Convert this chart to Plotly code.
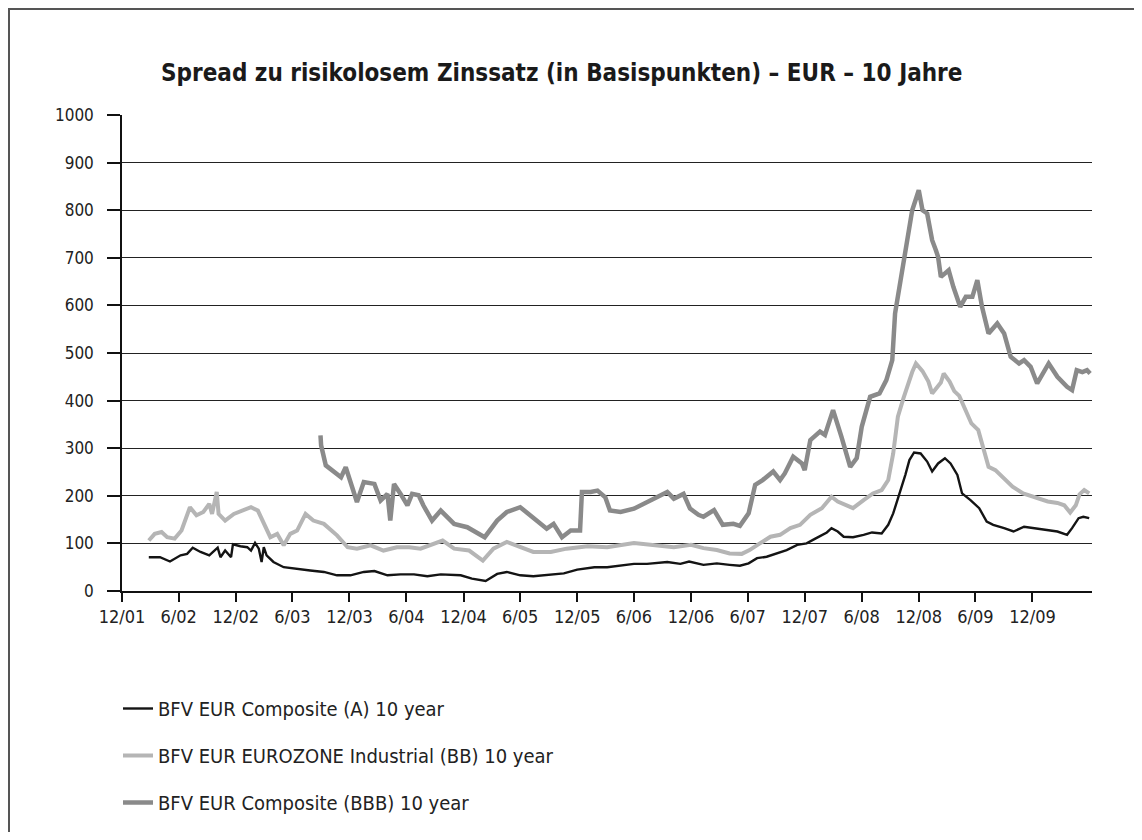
import plotly.graph_objects as go

# ---------------- data ----------------
dates_a = ["2002-02-25","2002-04-02","2002-05-04","2002-06-07","2002-06-28","2002-07-16","2002-08-10",
           "2002-09-07","2002-10-04","2002-10-13","2002-10-28","2002-11-16","2002-11-22","2002-12-16",
           "2003-01-07","2003-01-19","2003-02-01","2003-02-13","2003-02-22","2003-03-01","2003-03-10",
           "2003-04-01","2003-05-04","2003-06-04","2003-07-28","2003-09-10","2003-10-22","2003-12-04",
           "2004-01-16","2004-02-19","2004-04-01","2004-05-13","2004-06-25","2004-08-07","2004-09-19",
           "2004-11-22","2004-12-28","2005-02-10","2005-03-19","2005-04-19","2005-06-01","2005-07-13",
           "2005-09-07","2005-10-19","2005-12-01","2006-01-25","2006-03-07","2006-04-19","2006-06-01",
           "2006-07-13","2006-09-16","2006-10-28","2006-11-25","2007-01-10","2007-02-22","2007-04-04",
           "2007-05-07","2007-06-04","2007-07-01","2007-08-01","2007-09-01","2007-10-04","2007-11-07",
           "2007-12-07","2008-01-07","2008-02-10","2008-02-25","2008-03-16","2008-04-04","2008-05-04",
           "2008-06-07","2008-07-04","2008-08-04","2008-08-25","2008-09-10","2008-10-01","2008-10-19",
           "2008-11-01","2008-11-16","2008-12-07","2008-12-28","2009-01-13","2009-02-01","2009-02-23",
           "2009-03-13","2009-04-04","2009-04-19","2009-05-16","2009-06-13","2009-07-07","2009-07-28",
           "2009-09-01","2009-10-01","2009-11-04","2009-12-07","2010-01-07","2010-02-19","2010-03-22",
           "2010-04-07","2010-04-28","2010-05-13","2010-06-01"]
vals_a = [71, 71, 62, 75, 78, 91, 82,
          75, 91, 71, 85, 71, 98, 94,
          92, 85, 101, 89, 61, 92, 75,
          61, 50, 47, 43, 40, 33, 33,
          40, 42, 33, 35, 35, 31, 35,
          33, 26, 21, 36, 40, 33, 31,
          35, 37, 45, 50, 50, 54, 57,
          57, 61, 57, 62, 55, 58, 55,
          53, 58, 69, 72, 78, 86, 97,
          100, 111, 123, 132, 125, 114, 113,
          118, 123, 121, 139, 163, 205, 244,
          275, 291, 289, 272, 251, 268, 279,
          268, 244, 205, 191, 174, 146, 139,
          132, 125, 135, 132, 128, 125, 118,
          132, 153, 156, 153]

dates_bb = ["2002-02-25","2002-03-16","2002-04-07","2002-04-25","2002-05-19","2002-06-10","2002-07-07",
            "2002-07-28","2002-08-19","2002-09-07","2002-09-16","2002-10-01","2002-10-07","2002-10-28",
            "2002-11-25","2002-12-22","2003-01-19","2003-02-10","2003-03-01","2003-03-22","2003-04-13",
            "2003-05-04","2003-05-25","2003-06-16","2003-07-13","2003-08-07","2003-09-10","2003-10-22",
            "2003-11-25","2003-12-25","2004-02-07","2004-03-19","2004-05-01","2004-06-10","2004-07-16",
            "2004-09-25","2004-11-01","2004-12-19","2005-02-01","2005-03-07","2005-04-19","2005-06-01",
            "2005-07-13","2005-09-07","2005-10-28","2006-01-04","2006-03-07","2006-06-01","2006-08-04",
            "2006-10-07","2006-12-01","2007-01-10","2007-02-22","2007-04-04","2007-05-13","2007-06-07",
            "2007-07-10","2007-08-13","2007-09-13","2007-10-16","2007-11-16","2007-12-19","2008-01-25",
            "2008-02-25","2008-03-16","2008-04-07","2008-05-04","2008-06-07","2008-07-07","2008-08-04",
            "2008-08-25","2008-09-10","2008-09-25","2008-10-13","2008-11-01","2008-11-10","2008-11-22",
            "2008-12-13","2009-01-01","2009-01-13","2009-02-10","2009-02-19","2009-03-10","2009-03-25",
            "2009-04-10","2009-05-01","2009-05-19","2009-06-10","2009-07-01","2009-07-13","2009-08-04",
            "2009-09-01","2009-09-28","2009-11-01","2009-12-07","2010-01-19","2010-02-19","2010-03-13",
            "2010-04-01","2010-04-19","2010-05-01","2010-05-16","2010-06-01"]
vals_bb = [106, 120, 124, 113, 110, 127, 176,
           159, 166, 183, 162, 208, 162, 148,
           162, 169, 176, 169, 141, 113, 120,
           96, 120, 127, 162, 148, 141, 117,
           92, 89, 96, 85, 92, 92, 89,
           106, 89, 85, 64, 89, 103, 92,
           82, 82, 89, 94, 92, 101, 96,
           92, 97, 90, 86, 79, 78, 86,
           100, 114, 118, 132, 139, 160, 174,
           198, 188, 181, 174, 191, 205, 212,
           233, 289, 366, 405, 445, 460, 478,
           462, 440, 415, 438, 457, 440, 420,
           410, 380, 352, 338, 290, 261, 254,
           235, 219, 205, 198, 188, 185, 180,
           165, 180, 203, 212, 205]

dates_bbb = ["2003-08-30","2003-09-01","2003-09-16","2003-10-07","2003-11-04","2003-11-19","2003-12-04",
             "2003-12-25","2004-01-16","2004-02-19","2004-03-10","2004-04-01","2004-04-10","2004-04-22",
             "2004-05-13","2004-06-04","2004-06-19","2004-07-10","2004-07-25","2004-08-22","2004-09-19",
             "2004-11-01","2004-12-13","2005-02-07","2005-03-19","2005-04-19","2005-06-01","2005-07-13",
             "2005-08-25","2005-09-16","2005-10-13","2005-11-10","2005-12-10","2005-12-16","2006-01-13",
             "2006-02-04","2006-03-01","2006-03-16","2006-04-19","2006-06-01","2006-07-13","2006-08-19",
             "2006-09-16","2006-10-07","2006-11-07","2006-11-28","2006-12-25","2007-01-10","2007-02-13",
             "2007-03-13","2007-04-16","2007-05-07","2007-06-04","2007-06-25","2007-07-19","2007-08-22",
             "2007-09-13","2007-09-28","2007-10-25","2007-11-22","2007-12-01","2007-12-19","2008-01-19",
             "2008-02-04","2008-03-01","2008-03-28","2008-04-25","2008-05-16","2008-06-01","2008-06-28",
             "2008-07-28","2008-08-19","2008-09-07","2008-09-16","2008-10-01","2008-10-19","2008-11-10",
             "2008-12-01","2008-12-13","2008-12-28","2009-01-13","2009-01-25","2009-02-01","2009-02-10",
             "2009-03-07","2009-03-22","2009-04-13","2009-05-01","2009-05-22","2009-06-07","2009-06-22",
             "2009-07-13","2009-08-10","2009-09-01","2009-09-13","2009-09-22","2009-10-19","2009-11-04",
             "2009-11-25","2009-12-16","2010-01-22","2010-02-19","2010-03-22","2010-04-07","2010-04-22",
             "2010-05-10","2010-05-25","2010-06-04"]
vals_bbb = [327, 306, 264, 253, 239, 260, 232,
            187, 229, 225, 190, 204, 148, 225,
            204, 180, 204, 201, 180, 148, 169,
            141, 134, 113, 148, 166, 176, 155,
            131, 141, 113, 127, 127, 208, 208,
            211, 197, 169, 166, 173, 187, 197,
            208, 194, 204, 173, 160, 156, 170,
            139, 141, 137, 163, 223, 233, 251,
            233, 247, 282, 268, 254, 317, 335,
            328, 380, 324, 261, 279, 345, 408,
            415, 443, 485, 583, 646, 720, 800,
            842, 800, 793, 737, 716, 702, 660,
            674, 639, 597, 618, 618, 653, 597,
            541, 562, 541, 513, 492, 478, 485,
            471, 436, 478, 450, 429, 422, 464,
            460, 464, 457]

series_names = ["BFV EUR Composite (A) 10 year",
                "BFV EUR EUROZONE Industrial (BB) 10 year",
                "BFV EUR Composite (BBB) 10 year"]

tick_dates = ["2001-12-01","2002-06-01","2002-12-01","2003-06-01","2003-12-01","2004-06-01",
              "2004-12-01","2005-06-01","2005-12-01","2006-06-01","2006-12-01","2007-06-01",
              "2007-12-01","2008-06-01","2008-12-01","2009-06-01","2009-12-01"]
tick_labels = ["12/01","6/02","12/02","6/03","12/03","6/04","12/04","6/05","12/05",
               "6/06","12/06","6/07","12/07","6/08","12/08","6/09","12/09"]
y_ticks = [0, 100, 200, 300, 400, 500, 600, 700, 800, 900, 1000]

title_text = "Spread zu risikolosem Zinssatz (in Basispunkten) \u2013 EUR \u2013 10 Jahre"

# ---------------- styling ----------------
FONT = "DejaVu Sans Condensed, Liberation Sans Narrow, Arial Narrow, sans-serif"
OFF = 8                      # page body margin of the HTML page
W, H = 1142 - OFF, 840 - 2 * OFF
L, R, T = 122 - OFF, 50, 115 - OFF
B = H - (591 - OFF)
PW, PH = W - L - R, H - T - B

def px_x(px):
    return (px - OFF - L) / PW

def px_y(py):
    return (H - B - (py - OFF)) / PH

def cont_y(py):
    return 1 - (py - OFF) / H

fig = go.Figure()
fig.add_trace(go.Scatter(x=dates_a, y=vals_a, mode="lines", name=series_names[0],
                         line=dict(color="#141414", width=2.4), legendgroup="a"))
fig.add_trace(go.Scatter(x=dates_bb, y=vals_bb, mode="lines", name=series_names[1],
                         line=dict(color="#b5b5b5", width=4), legendgroup="bb"))
fig.add_trace(go.Scatter(x=dates_bbb, y=vals_bbb, mode="lines", name=series_names[2],
                         line=dict(color="#8a8a8a", width=4.5), legendgroup="bbb"))

fig.update_layout(
    width=W, height=H, autosize=False,
    margin=dict(l=L, r=R, t=T, b=B),
    paper_bgcolor="white", plot_bgcolor="white",
    font=dict(family=FONT, color="#222222"),
    showlegend=True,
    legend=dict(x=px_x(118), y=cont_y(689), xref="paper", yref="container",
                xanchor="left", yanchor="top",
                font=dict(size=20, family=FONT, color="#222222"),
                tracegroupgap=18, bgcolor="rgba(0,0,0,0)", borderwidth=0,
                traceorder="grouped"),
    annotations=[dict(text="<b>" + title_text + "</b>", x=px_x(561), y=px_y(73),
                      xref="paper", yref="paper", xanchor="center", yanchor="middle",
                      showarrow=False, font=dict(size=24, family=FONT, color="#1a1a1a"))],
    shapes=[dict(type="rect", xref="paper", yref="paper",
                 x0=px_x(9), x1=px_x(1140), y0=px_y(870), y1=px_y(9),
                 line=dict(color="#555555", width=2), fillcolor="rgba(0,0,0,0)", layer="below")],
)

fig.update_xaxes(type="date", range=["2001-12-01", "2010-06-10"],
                 tickmode="array", tickvals=tick_dates, ticktext=tick_labels,
                 ticks="outside", ticklen=9, tickwidth=1.5, tickcolor="#111111",
                 showline=True, linecolor="#111111", linewidth=1.5,
                 showgrid=False, zeroline=False, ticklabelstandoff=0,
                 tickfont=dict(size=18, family=FONT, color="#222222"))
fig.update_yaxes(range=[0, 1000], tickmode="array", tickvals=y_ticks,
                 ticks="outside", ticklen=13, tickwidth=1.5, tickcolor="#111111",
                 showline=True, linecolor="#111111", linewidth=1.5,
                 showgrid=True, gridcolor="#222222", gridwidth=1.3, zeroline=False,
                 ticklabelstandoff=10,
                 tickfont=dict(size=17, family=FONT, color="#222222"))

fig.write_html("out.html")
